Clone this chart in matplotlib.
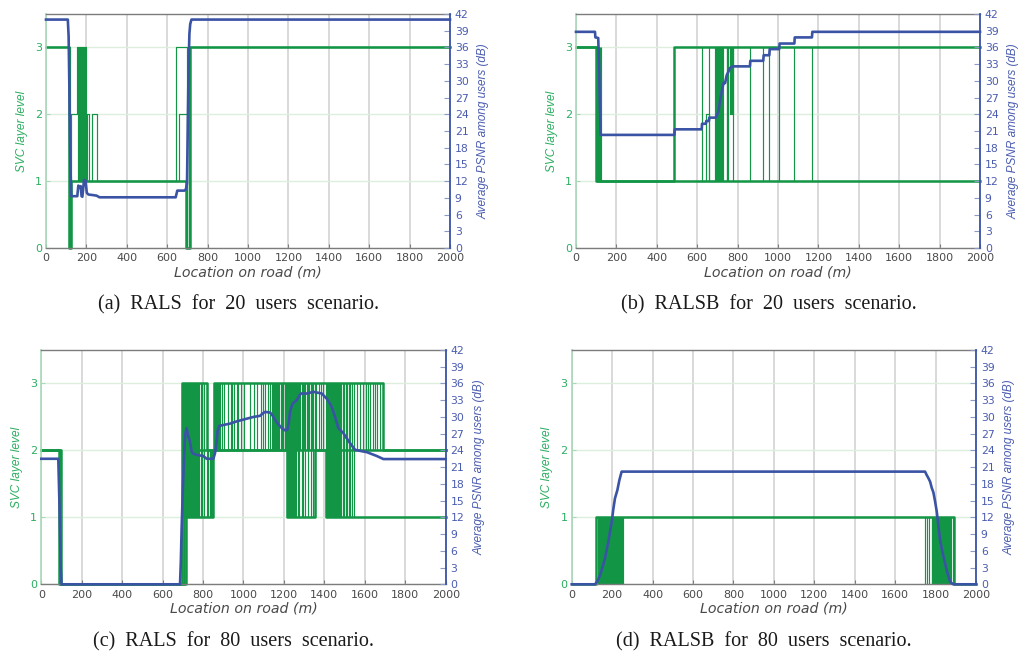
import matplotlib
matplotlib.use("Agg")
import matplotlib.pyplot as plt

# Colours
GREEN = "#129646"
GREEN_TXT = "#2bae60"
GREEN_AXIS = "#a8d8b8"
GREEN_GRID = "#dcefdc"
BLUE = "#3b53a5"
BLUE_TXT = "#4a5cb0"
BLUE_TICK = "#8c9ac8"
GRAY_GRID = "#d9d9d9"
GRAY_AXIS = "#7c7c7c"
GRAY_TXT = "#4a4a4a"

X_TICKS = [0, 200, 400, 600, 800, 1000, 1200, 1400, 1600, 1800, 2000]
SVC_TICKS = [0, 1, 2, 3]
PSNR_TICKS = [0, 3, 6, 9, 12, 15, 18, 21, 24, 27, 30, 33, 36, 39, 42]

# ---- (a) RALS, 20 users ----
A_MAIN_X = [0, 112, 122, 692, 712, 2000]
A_MAIN_L = [3, 0, 1, 0, 3, 3]
A_USER1_X = [0, 118, 124, 155, 199, 205, 215, 226, 254, 645, 698, 706, 2000]
A_USER1_L = [3, 0, 2, 3, 1, 2, 1, 2, 1, 3, 0, 3, 3]
A_USER2_X = [0, 116, 126, 658, 700, 709, 2000]
A_USER2_L = [3, 0, 1, 2, 0, 3, 3]
A_SW13_X = [159, 163, 167, 171, 175, 179, 183, 187, 191, 195]
A_PSNR_X = [0, 108, 112, 116, 120, 125, 155, 160, 166, 172, 176, 180, 184, 188, 196,
            202, 210, 232, 250, 265, 642, 650, 686, 692, 698, 702, 706, 710, 714, 720, 2000]
A_PSNR_Y = [41, 41, 38, 28, 16, 9.3, 9.3, 11.2, 10.8, 11.1, 9.3, 9.2, 10.6, 12.2, 12.1,
            9.9, 9.6, 9.5, 9.4, 9.1, 9.1, 10.3, 10.3, 10.5, 11.5, 22, 33, 38.5, 40.2, 41, 41]

# ---- (b) RALSB, 20 users ----
B_MAIN_X = [0, 99, 2000]
B_MAIN_L = [3, 1, 1]
B_UPPER_X = [0, 104, 487, 2000]
B_UPPER_L = [3, 1, 3, 3]
B_USER1_X = [600, 643, 660, 700]
B_USER1_L = [1, 2, 1, 1]
B_USER2_X = [705, 762, 766, 772, 779, 790]
B_USER2_L = [3, 2, 3, 2, 3, 3]
B_SW13_X = [108, 112, 116, 120, 125, 622, 658, 690, 694, 698, 702, 706, 710, 714, 720,
            725, 729, 746, 750, 754, 775, 861, 927, 957, 1006, 1081, 1168]
B_PSNR_X = [0, 94, 96, 110, 114, 118, 122, 487, 489, 622, 624, 643, 645, 658, 660,
            693, 700, 705, 713, 721, 730, 738, 746, 754, 762, 770, 779, 861, 863,
            927, 929, 957, 959, 1006, 1008, 1081, 1083, 1168, 1170, 2000]
B_PSNR_Y = [38.8, 38.8, 37.8, 37.7, 33, 26, 20.3, 20.3, 21.3, 21.3, 22.3, 22.3, 22.8, 22.8, 23.4,
            23.4, 24, 24.5, 26.4, 28, 29.6, 29.6, 31, 31.6, 32.3, 32.5, 32.6, 32.6, 33.6,
            33.6, 34.6, 34.6, 35.7, 35.7, 36.7, 36.7, 37.8, 37.8, 38.8, 38.8]

# ---- (c) RALS, 80 users ----
C_MAIN_X = [0, 88, 694, 821, 852, 1688, 2000]
C_MAIN_L = [2, 0, 3, 2, 3, 2, 2]
C_LOW_X = [0, 98, 708, 851, 1217, 1354, 1408, 2000]
C_LOW_L = [2, 0, 1, 2, 1, 2, 1, 1]
C_MID_X = [0, 92, 714, 2000]
C_MID_L = [2, 0, 2, 2]
C_SW13_X = [696, 699, 702, 704, 707, 710, 713, 716, 719, 721, 724, 727, 730, 733, 736,
            740, 743, 746, 749, 753, 757, 761, 765, 770, 776, 782, 788, 793, 806, 818,
            1214, 1217, 1220, 1223, 1226, 1229, 1232, 1235, 1238, 1241, 1245, 1249, 1253,
            1257, 1262, 1268, 1275, 1287, 1296, 1305, 1320, 1335, 1346, 1354,
            1408, 1411, 1414, 1417, 1420, 1423, 1426, 1429, 1432, 1435, 1438, 1441, 1444,
            1447, 1451, 1455, 1459, 1463, 1467, 1472, 1477, 1482, 1490, 1497, 1505, 1512,
            1520, 1528, 1537, 1546]
C_SW12_X = [826, 832, 839, 845]
C_SW23_X = [854, 857, 860, 863, 866, 869, 872, 875, 878, 881, 884, 892, 906, 921, 938,
            944, 954, 966, 974, 990, 1002, 1032, 1052, 1068, 1085, 1098, 1106, 1120, 1131,
            1139, 1145, 1150, 1156, 1162, 1167, 1172, 1178, 1185, 1192, 1197, 1203, 1209,
            1266, 1280, 1293, 1300, 1314, 1326, 1340, 1360, 1372, 1385, 1395,
            1560, 1576, 1593, 1606, 1618, 1626, 1639, 1651, 1662, 1675]
C_PSNR_X = [0, 84, 90, 96, 100, 686, 690, 694, 700, 706, 712, 719, 727, 735, 744, 752,
            768, 801, 818, 851, 859, 867, 872, 880, 933, 966, 1007, 1049, 1082, 1094,
            1106, 1131, 1143, 1156, 1168, 1181, 1193, 1205, 1217, 1224, 1230, 1237, 1243,
            1263, 1273, 1283, 1313, 1346, 1387, 1411, 1424, 1436, 1453, 1469, 1494, 1510,
            1527, 1552, 1593, 1609, 1659, 1692, 2000]
C_PSNR_Y = [22.5, 22.5, 14, 3, 0, 0, 4, 10, 17, 23, 27, 28, 26.5, 25.6, 23.7, 23.4,
            23.2, 23.0, 22.5, 22.5, 23.5, 25.6, 27.5, 28.4, 28.8, 29.2, 29.6, 30.0, 30.2, 30.6,
            30.9, 30.8, 30.3, 29.5, 28.9, 28.3, 27.9, 27.6, 27.7, 29, 30.9, 31.8, 32.4,
            33.0, 33.6, 34.2, 34.2, 34.5, 34.2, 33.3, 32.6, 31.8, 30.0, 28.0, 27.1, 26.2,
            25.3, 24.1, 23.8, 23.7, 23.0, 22.45, 22.45]

# ---- (d) RALSB, 80 users ----
D_MAIN_X = [0, 118, 1890, 2000]
D_MAIN_L = [0, 1, 0, 0]
D_SW01_X = [128, 137, 141, 143, 146, 149, 151, 154, 157, 160, 162, 165, 168, 171, 173,
            176, 179, 182, 185, 187, 190, 193, 196, 199, 201, 204, 207, 210, 213, 216,
            219, 221, 224, 227, 230, 233, 236, 239, 242, 245, 248, 251, 254,
            1748, 1756, 1769, 1781, 1784, 1787, 1790, 1793, 1796, 1799, 1802, 1805, 1808,
            1811, 1814, 1817, 1820, 1823, 1826, 1829, 1832, 1835, 1838, 1841, 1844, 1847,
            1850, 1853, 1856, 1859, 1862, 1865, 1868, 1871, 1876, 1885]
D_PSNR_X = [0, 115, 128, 140, 152, 165, 181, 190, 198, 206, 214, 226, 236, 247, 255,
            1748, 1756, 1765, 1773, 1781, 1789, 1797, 1806, 1814, 1822, 1830, 1839, 1847,
            1855, 1863, 1872, 1880, 1888, 2000]
D_PSNR_Y = [0, 0, 0.6, 1.6, 3, 4.7, 7.6, 9.5, 11.2, 13.5, 15.4, 16.9, 18.7, 20.2, 20.2,
            20.2, 19.6, 19.0, 18.4, 17.3, 16.5, 15.0, 13.0, 10.5, 8.0, 6.5, 5.0, 3.8,
            2.5, 1.5, 0.5, 0.2, 0, 0]

W, H = 1020, 652
fig = plt.figure(figsize=(W / 100, H / 100), dpi=100)


def rect_px(left, top, right, bottom):
    return [left / W, 1 - bottom / H, (right - left) / W, (bottom - top) / H]


def draw_panel(rect, thick, thin, switches, psnr_x, psnr_y, caption, cap_x, cap_y):
    ax = fig.add_axes(rect)
    ax.set_xlim(0, 2000)
    ax.set_ylim(0, 3.5)
    ax.set_xticks(X_TICKS)
    ax.set_yticks(SVC_TICKS)
    ax.xaxis.grid(True, color=GRAY_GRID, lw=1.4)
    ax.yaxis.grid(True, color=GREEN_GRID, lw=1.0)
    ax.set_axisbelow(True)
    for s in ["top", "bottom"]:
        ax.spines[s].set_color(GRAY_AXIS)
        ax.spines[s].set_linewidth(1.0)
    ax.spines["left"].set_color(GREEN_AXIS)
    ax.spines["left"].set_linewidth(1.2)
    ax.spines["right"].set_visible(False)
    ax.tick_params(axis="x", direction="in", length=3, color=GRAY_AXIS,
                   labelcolor=GRAY_TXT, labelsize=8, pad=3.8)
    ax.tick_params(axis="y", direction="in", length=3, color=GREEN_AXIS,
                   labelcolor=GREEN_TXT, labelsize=8, pad=3)

    # SVC layer level of the users, green
    for xs, lv in thin:
        ax.step(xs, lv, where="post", color=GREEN, lw=0.85, clip_on=False)
    for xs, lo, hi in switches:
        ax.vlines(xs, lo, hi, color=GREEN, lw=0.85)
    for xs, lv in thick:
        ax.step(xs, lv, where="post", color=GREEN, lw=1.8, clip_on=False)

    ax.set_xlabel("Location on road (m)", fontsize=10.2, fontstyle="italic", color=GRAY_TXT)
    ax.xaxis.set_label_coords(0.5, -0.103)
    ax.xaxis.label.set_va("center")
    ax.set_ylabel("SVC layer level", fontsize=8.6, fontstyle="italic",
                  family="Liberation Sans", color=GREEN_TXT)
    ax.yaxis.set_label_coords(-0.06, 0.5)
    ax.yaxis.label.set_va("center")

    # average PSNR, blue, right axis
    ax2 = ax.twinx()
    ax2.set_ylim(0, 42)
    ax2.set_yticks(PSNR_TICKS)
    for s in ["left", "top", "bottom"]:
        ax2.spines[s].set_visible(False)
    ax2.spines["right"].set_color(BLUE)
    ax2.spines["right"].set_linewidth(1.3)
    ax2.tick_params(axis="y", direction="in", length=4, color=BLUE_TICK,
                    labelcolor=BLUE_TXT, labelsize=7.8, pad=3.5)
    ax2.plot(psnr_x, psnr_y, color=BLUE, lw=1.9, clip_on=False)
    ax2.set_ylabel("Average PSNR among users (dB)", fontsize=8.5, fontstyle="italic",
                   family="Liberation Sans", color=BLUE_TXT, rotation=90)
    ax2.yaxis.set_label_coords(1.083, 0.5)
    ax2.yaxis.label.set_va("center")

    fig.text(cap_x / W, 1 - cap_y / H, caption, ha="center", va="center",
             family="Liberation Serif", fontsize=14.5, color="#1a1a1a")


draw_panel(rect_px(46, 14, 450, 248),
           [(A_MAIN_X, A_MAIN_L)],
           [(A_USER1_X, A_USER1_L), (A_USER2_X, A_USER2_L)],
           [(A_SW13_X, 1, 3)],
           A_PSNR_X, A_PSNR_Y, "(a)  RALS  for  20  users  scenario.", 238.5, 305)

draw_panel(rect_px(576, 14, 980, 248),
           [(B_MAIN_X, B_MAIN_L), (B_UPPER_X, B_UPPER_L)],
           [(B_USER1_X, B_USER1_L), (B_USER2_X, B_USER2_L)],
           [(B_SW13_X, 1, 3)],
           B_PSNR_X, B_PSNR_Y, "(b)  RALSB  for  20  users  scenario.", 768.5, 305)

draw_panel(rect_px(41.3, 350, 445.7, 584.3),
           [(C_MAIN_X, C_MAIN_L), (C_LOW_X, C_LOW_L), (C_MID_X, C_MID_L)],
           [],
           [(C_SW13_X, 1, 3), (C_SW12_X, 1, 2), (C_SW23_X, 2, 3)],
           C_PSNR_X, C_PSNR_Y, "(c)  RALS  for  80  users  scenario.", 234, 641.5)

draw_panel(rect_px(571.7, 350, 976, 584.3),
           [(D_MAIN_X, D_MAIN_L)],
           [],
           [(D_SW01_X, 0, 1)],
           D_PSNR_X, D_PSNR_Y, "(d)  RALSB  for  80  users  scenario.", 764, 641.5)

fig.savefig("out.png", dpi=100)
